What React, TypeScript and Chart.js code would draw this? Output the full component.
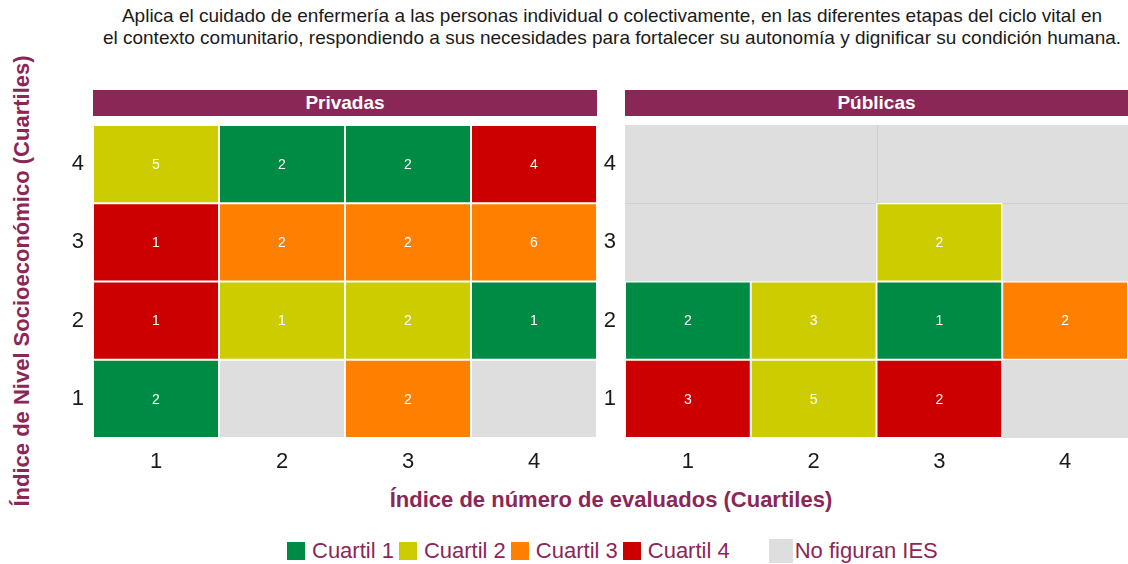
import React, { useEffect, useRef } from 'react';
import { Chart, registerables } from 'chart.js';

Chart.register(...registerables);

// ---------- data ----------
const titleLines = [
  'Aplica el cuidado de enfermería a las personas individual o colectivamente, en las diferentes etapas del ciclo vital en',
  'el contexto comunitario, respondiendo a sus necesidades para fortalecer su autonomía y dignificar su condición humana.',
];
const xAxisTitle = 'Índice de número de evaluados (Cuartiles)';
const yAxisTitle = 'Índice de Nivel Socioeconómico (Cuartiles)';
const xLabels = ['1', '2', '3', '4'];
const yLevels = [1, 2, 3, 4];
const panelNames = ['Privadas', 'Públicas'];
const quartileNames = ['Cuartil 1', 'Cuartil 2', 'Cuartil 3', 'Cuartil 4'];
const naLabel = 'No figuran IES';

// rows correspond to yLevels (1..4), columns to xLabels (1..4); null = no IES
const privadasCuartil: (number | null)[][] = [
  [1, null, 3, null],
  [4, 2, 2, 1],
  [4, 3, 3, 3],
  [2, 1, 1, 4],
];
const privadasConteo: (number | null)[][] = [
  [2, null, 2, null],
  [1, 1, 2, 1],
  [1, 2, 2, 6],
  [5, 2, 2, 4],
];
const publicasCuartil: (number | null)[][] = [
  [4, 2, 4, null],
  [1, 2, 1, 3],
  [null, null, 2, null],
  [null, null, null, null],
];
const publicasConteo: (number | null)[][] = [
  [3, 5, 2, null],
  [2, 3, 1, 2],
  [null, null, 2, null],
  [null, null, null, null],
];

// ---------- styles ----------
const quartileColors = ['#008B45', '#CCCC00', '#FF8000', '#CC0000'];
const naColor = '#DEDEDE';
const accent = '#8B2756';
const FONT = '"Liberation Sans", Arial, Helvetica, sans-serif';

type PanelProps = {
  cuartil: (number | null)[][];
  conteo: (number | null)[][];
  naTiles: boolean;
  yAxisWidth: number;
  padRight: number;
  left: number;
  width: number;
};

function Panel({ cuartil, conteo, naTiles, yAxisWidth, padRight, left, width }: PanelProps) {
  const ref = useRef<HTMLCanvasElement | null>(null);
  useEffect(() => {
    if (!ref.current) return;
    const datasets = yLevels.map((y, r) => ({
      label: 'fila ' + y,
      data: xLabels.map((_, c) => {
        const q = cuartil[r][c];
        if (q == null && !naTiles) return null;
        return [y - 0.5, y + 0.5];
      }),
      backgroundColor: xLabels.map((_, c) => {
        const q = cuartil[r][c];
        return q == null ? naColor : quartileColors[q - 1];
      }),
      borderColor: '#FFFFFF',
      borderWidth: 1.3,
      borderSkipped: false,
      grouped: false,
      barPercentage: 1,
      categoryPercentage: 1,
    }));

    const bgPlugin = {
      id: 'panelBg',
      beforeDatasetsDraw(chart: any) {
        if (naTiles) return;
        const { ctx, chartArea, scales } = chart;
        ctx.save();
        ctx.fillStyle = naColor;
        ctx.fillRect(chartArea.left, chartArea.top, chartArea.right - chartArea.left, chartArea.bottom - chartArea.top);
        ctx.strokeStyle = '#CFCFCF';
        ctx.lineWidth = 1;
        const xs = scales.x;
        const ys = scales.y;
        const xm = Math.round((xs.getPixelForValue(1) + xs.getPixelForValue(2)) / 2) + 0.5;
        const yh = Math.round(ys.getPixelForValue(3.5)) + 0.5;
        ctx.beginPath();
        ctx.moveTo(xm, ys.getPixelForValue(4.5));
        ctx.lineTo(xm, yh);
        ctx.moveTo(chartArea.left, yh);
        ctx.lineTo(chartArea.right, yh);
        ctx.stroke();
        ctx.restore();
      },
    };

    const labelPlugin = {
      id: 'cellLabels',
      afterDatasetsDraw(chart: any) {
        const { ctx } = chart;
        ctx.save();
        ctx.fillStyle = '#FFFFFF';
        ctx.font = '14px ' + FONT;
        ctx.textAlign = 'center';
        ctx.textBaseline = 'middle';
        yLevels.forEach((_, r) => {
          const meta = chart.getDatasetMeta(r);
          meta.data.forEach((el: any, c: number) => {
            const n = conteo[r][c];
            if (n == null) return;
            const p = el.getProps(['x', 'y', 'base'], true);
            ctx.fillText(String(n), p.x, (p.y + p.base) / 2 + 1);
          });
        });
        ctx.restore();
      },
    };

    const zeroPad = (scale: any) => {
      scale.paddingTop = 0;
      scale.paddingBottom = 0;
      scale.paddingLeft = 0;
      scale.paddingRight = 0;
    };

    const chart = new Chart(ref.current, {
      type: 'bar',
      data: { labels: xLabels, datasets: datasets as any },
      options: {
        animation: false,
        responsive: false,
        maintainAspectRatio: false,
        layout: { padding: { top: 5, right: padRight, bottom: 0, left: 0 } },
        plugins: { legend: { display: false }, tooltip: { enabled: false }, title: { display: false } },
        scales: {
          x: {
            type: 'category',
            offset: true,
            grid: { display: false, drawTicks: false },
            border: { display: false },
            ticks: { color: '#1A1A1A', font: { family: FONT, size: 22 }, padding: 11, maxRotation: 0 },
            afterFit(scale: any) {
              scale.height = 42;
              zeroPad(scale);
            },
          },
          y: {
            type: 'linear',
            min: 0.5,
            max: 4.5,
            grid: { display: false, drawTicks: false },
            border: { display: false },
            afterBuildTicks(scale: any) {
              scale.ticks = yLevels.map((v) => ({ value: v }));
            },
            ticks: { color: '#1A1A1A', font: { family: FONT, size: 22 }, padding: 9 },
            afterFit(scale: any) {
              scale.width = yAxisWidth;
              zeroPad(scale);
            },
          },
        },
      },
      plugins: [bgPlugin, labelPlugin],
    });
    return () => chart.destroy();
  }, []);
  return (
    <canvas
      ref={ref}
      width={width}
      height={360}
      style={{ position: 'absolute', left, top: 120, width, height: 360 }}
    />
  );
}

export default function App() {
  const strip = (text: string, left: number, width: number) => (
    <div
      style={{
        position: 'absolute',
        left,
        top: 90,
        width,
        height: 26,
        background: accent,
        color: '#FFFFFF',
        fontWeight: 'bold',
        fontSize: 19,
        lineHeight: '26px',
        textAlign: 'center',
      }}
    >
      {text}
    </div>
  );
  const legendItems = quartileNames.map((n, i) => ({ name: n, color: quartileColors[i] }));
  return (
    <div
      style={{
        position: 'fixed',
        left: 0,
        top: 0,
        width: 1128,
        height: 564,
        background: '#FFFFFF',
        fontFamily: FONT,
        overflow: 'hidden',
      }}
    >
      <div
        style={{
          position: 'absolute',
          left: 612,
          top: 5,
          transform: 'translateX(-50%)',
          whiteSpace: 'nowrap',
          textAlign: 'center',
          fontSize: 19,
          lineHeight: '22px',
          color: '#1A1A1A',
        }}
      >
        {titleLines[0]}
        <br />
        {titleLines[1]}
      </div>
      {strip(panelNames[0], 93, 504)}
      {strip(panelNames[1], 625, 503)}
      <Panel
        cuartil={privadasCuartil}
        conteo={privadasConteo}
        naTiles={true}
        yAxisWidth={38}
        padRight={5}
        left={55}
        width={547}
      />
      <Panel
        cuartil={publicasCuartil}
        conteo={publicasConteo}
        naTiles={false}
        yAxisWidth={25}
        padRight={0}
        left={600}
        width={528}
      />
      <div
        style={{
          position: 'absolute',
          left: 611,
          top: 500,
          transform: 'translate(-50%, -50%)',
          whiteSpace: 'nowrap',
          fontWeight: 'bold',
          fontSize: 22,
          color: accent,
        }}
      >
        {xAxisTitle}
      </div>
      <div
        style={{
          position: 'absolute',
          left: 22,
          top: 281,
          transform: 'translate(-50%, -50%) rotate(-90deg)',
          whiteSpace: 'nowrap',
          fontWeight: 'bold',
          fontSize: 22,
          color: accent,
        }}
      >
        {yAxisTitle}
      </div>
      <div
        style={{
          position: 'absolute',
          left: 287,
          top: 538,
          height: 26,
          display: 'flex',
          alignItems: 'center',
          whiteSpace: 'nowrap',
          fontSize: 22,
          color: accent,
        }}
      >
        {legendItems.map((it) => (
          <span key={it.name} style={{ display: 'flex', alignItems: 'center', marginRight: 5 }}>
            <span style={{ display: 'inline-block', width: 18, height: 18, background: it.color, marginRight: 7 }} />
            <span>{it.name}</span>
          </span>
        ))}
        <span style={{ display: 'flex', alignItems: 'center', marginLeft: 34 }}>
          <span style={{ display: 'inline-block', width: 24, height: 24, background: naColor, marginRight: 2 }} />
          <span>{naLabel}</span>
        </span>
      </div>
    </div>
  );
}
